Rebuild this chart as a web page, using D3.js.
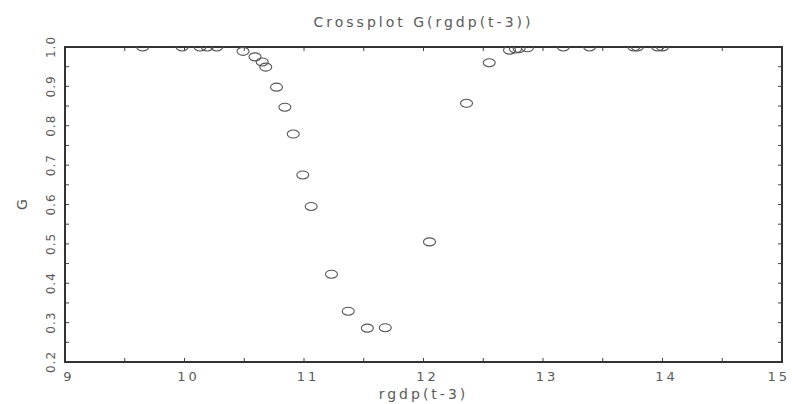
<!DOCTYPE html>
<html>
<head>
<meta charset="utf-8">
<script src="https://cdn.jsdelivr.net/npm/d3@7"></script>
<style>
	html, body { margin: 0; padding: 0; background: #fff; }
	.chart text { font-family: "DejaVu Sans", sans-serif; fill: #5a5a5a; }
</style>
</head>
<body>
<div class="chart"><svg></svg></div>
<script>
// DATA
var rgdpValues = [9.65, 9.98, 10.13, 10.19, 10.27, 10.49, 10.59, 10.65, 10.68, 10.77,
	10.84, 10.91, 10.99, 11.06, 11.23, 11.37, 11.53, 11.68, 12.05, 12.36,
	12.55, 12.72, 12.77, 12.80, 12.87, 13.17, 13.39, 13.76, 13.79, 13.96, 14.0];
var gValues = [1.0, 1.0, 1.0, 1.0, 1.0, 0.989, 0.975, 0.962, 0.949, 0.898,
	0.847, 0.779, 0.675, 0.595, 0.423, 0.329, 0.286, 0.287, 0.505, 0.857,
	0.96, 0.992, 0.995, 0.996, 0.998, 1.0, 1.0, 1.0, 1.0, 1.0, 1.0];
var xTicks = [9, 10, 11, 12, 13, 14, 15];
var yTicks = [0.2, 0.3, 0.4, 0.5, 0.6, 0.7, 0.8, 0.9, 1.0];
var titleText = 'Crossplot G(rgdp(t-3))';
var xLabel = 'rgdp(t-3)';
var yLabel = 'G';

(function() {

	var svgWidth = 792;
	var svgHeight = 404;
	var margin = {top: 47, right: 10, bottom: 42, left: 65};
	var width = svgWidth - margin.left - margin.right;
	var height = svgHeight - margin.top - margin.bottom;

	var svg = d3.select('.chart svg')
		.attr('width', svgWidth)
		.attr('height', svgHeight);

	var g = svg.append('g')
		.attr('transform', 'translate(' + margin.left + ',' + margin.top + ')');

	// SCALES
	var x = d3.scaleLinear().domain([9, 15]).range([0, width]);
	var y = d3.scaleLinear().domain([0.2, 1.0]).range([height, 0]);

	var xMinor = d3.range(9, 15.01, 0.5);
	var yMinor = d3.range(0.2, 1.001, 0.05);

	// clip the markers to the frame (the ones at G=1 get cut in half)
	svg.append('clipPath').attr('id', 'clip')
		.append('rect').attr('width', width).attr('height', height);

	// inward ticks on all four sides
	function drawTicks() {
		var tk = g.append('g').attr('stroke', '#444').attr('stroke-width', 1);
		xMinor.forEach(function(v) {
			tk.append('line').attr('x1', x(v)).attr('x2', x(v)).attr('y1', height).attr('y2', height - 4);
			tk.append('line').attr('x1', x(v)).attr('x2', x(v)).attr('y1', 0).attr('y2', 4);
		});
		yMinor.forEach(function(v) {
			tk.append('line').attr('x1', 0).attr('x2', 4).attr('y1', y(v)).attr('y2', y(v));
			tk.append('line').attr('x1', width).attr('x2', width - 4).attr('y1', y(v)).attr('y2', y(v));
		});
	}
	drawTicks();

	// frame
	g.append('rect')
		.attr('width', width)
		.attr('height', height)
		.attr('fill', 'none')
		.attr('stroke', '#333')
		.attr('stroke-width', 2);

	// tick labels (last one pulled in so it stays on the page)
	g.selectAll('.xlab')
		.data(xTicks)
		.enter().append('text')
		.attr('class', 'xlab')
		.attr('x', function(d, i) { return i == xTicks.length - 1 ? width + 8 : x(d) + 4; })
		.attr('y', height + 19)
		.attr('text-anchor', function(d, i) { return i == xTicks.length - 1 ? 'end' : 'middle'; })
		.style('font-size', '13px')
		.style('letter-spacing', '3px')
		.text(function(d) { return d; });

	g.selectAll('.ylab')
		.data(yTicks)
		.enter().append('text')
		.attr('class', 'ylab')
		.attr('transform', function(d) { return 'translate(-10,' + y(d) + ') rotate(-90)'; })
		.attr('text-anchor', 'middle')
		.style('font-size', '12px')
		.style('letter-spacing', '1px')
		.text(function(d) { return d3.format('.1f')(d); });

	// points
	var pts = rgdpValues.map(function(v, i) { return {x: v, y: gValues[i]}; });
	g.append('g').attr('clip-path', 'url(#clip)')
		.selectAll('ellipse')
		.data(pts)
		.enter().append('ellipse')
		.attr('cx', function(d) { return x(d.x); })
		.attr('cy', function(d) { return y(d.y); })
		.attr('rx', 6)
		.attr('ry', 4)
		.attr('fill', 'none')
		.attr('stroke', '#555')
		.attr('stroke-width', 1.1);

	// titles
	svg.append('text')
		.attr('x', margin.left + width / 2)
		.attr('y', 27)
		.attr('text-anchor', 'middle')
		.style('font-size', '14px')
		.style('letter-spacing', '3px')
		.text(titleText);

	svg.append('text')
		.attr('x', margin.left + width / 2)
		.attr('y', 399)
		.attr('text-anchor', 'middle')
		.style('font-size', '14px')
		.style('letter-spacing', '3px')
		.text(xLabel);

	svg.append('text')
		.attr('transform', 'translate(27,' + (margin.top + height / 2) + ') rotate(-90)')
		.attr('text-anchor', 'middle')
		.style('font-size', '14px')
		.text(yLabel);

})();
</script>
</body>
</html>
